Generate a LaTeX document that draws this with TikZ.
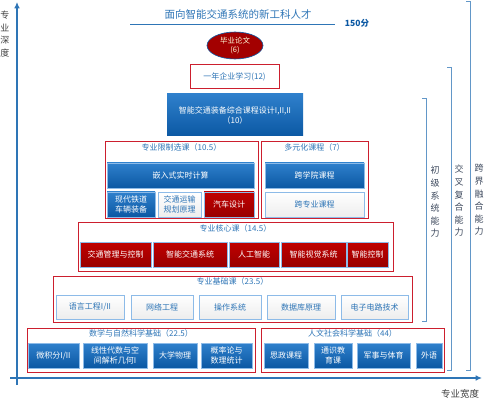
\documentclass[tikz,border=0pt]{standalone}
\usepackage{fontspec}
\setmainfont{Noto Sans CJK SC}
\usetikzlibrary{positioning,arrows.meta,shapes.geometric}
\definecolor{axisblue}{HTML}{2E75B6}
\definecolor{txtblue}{HTML}{2E75B6}
\definecolor{blktop}{HTML}{2F80CC}
\definecolor{blkbot}{HTML}{0B58A3}
\definecolor{redtop}{HTML}{C00000}
\definecolor{redbot}{HTML}{980000}
\definecolor{grpred}{HTML}{CC1F2E}
\definecolor{edgeblue}{HTML}{8DBBE8}
\definecolor{labgray}{HTML}{3E4A5E}

\begin{document}
\begin{tikzpicture}[x=1pt,y=-1pt,
  crs/.style={draw=edgeblue,line width=0.8pt,align=center,inner sep=1pt,
              font=\fontsize{8}{10}\selectfont,text=white},
  bluecrs/.style={crs,top color=blktop,bottom color=blkbot},
  redcrs/.style={crs,top color=redtop,bottom color=redbot},
  whitecrs/.style={crs,top color=white,bottom color=gray!14,text=txtblue},
  grp/.style={draw=grpred,line width=1pt},
  grptitle/.style={anchor=north,inner sep=2pt,text=txtblue,font=\fontsize{8}{9}\selectfont},
  brk/.style={draw=axisblue!75,line width=0.8pt},
  vtxt/.style={align=center,inner sep=0pt,text=labgray,font=\fontsize{9}{12.6}\selectfont},
  ax/.style={draw=axisblue,line width=1.3pt,-{Latex[length=2.2mm,width=2mm]}}
]
\useasboundingbox (0,0) rectangle (485,401);

% axes
\coordinate (ybot) at (17,385);
\coordinate (ytop) at (17,2);
\coordinate (xleft) at (10,378);
\coordinate (xright) at (482,378);
\draw[ax] (ybot) -- (ytop);
\draw[ax] (xleft) -- (xright);
\node[vtxt,text=black!75] (depth) at (5,34) {专\\业\\深\\度};
\node[text=black!75,font=\fontsize{9.5}{11}\selectfont,inner sep=0pt] (width) at (460,394) {专业宽度};

% goal
\node[text=txtblue,font=\fontsize{10.5}{12}\selectfont,inner sep=0pt] (goal) at (238,14) {面向智能交通系统的新工科人才};
\coordinate (ulA) at (130,24.5);
\coordinate (ulB) at (335,24.5);
\draw[axisblue,line width=1.2pt] (ulA) -- (ulB);
\node[text=blkbot,font=\bfseries\fontsize{8.5}{10}\selectfont,inner sep=0pt] (total) at (357,23) {150分};

% top levels
\node[ellipse,draw=blkbot,line width=0.6pt,fill=redtop!85!black,minimum width=56,minimum height=27,
      inner sep=0pt,align=center,text=yellow!15,font=\fontsize{7.5}{9}\selectfont] (thesis) at (235,45.5)
  {毕业论文\\(6)};
\node[grp,fill=white,minimum width=89,minimum height=24,inner sep=0pt,text=txtblue,
      font=\fontsize{8}{9}\selectfont] (firm) at (234.5,77) {一年企业学习(12)};
\node[crs,top color=blktop,bottom color=blkbot,draw=none,minimum width=136,minimum height=42] (design) at (235,115)
  {智能交通装备综合课程设计I,II,II\\（10）};

% electives
\node[grp,minimum width=153,minimum height=77] (restr) at (181.5,180.5) {};
\node[grptitle] (restrT) at (restr.north) {专业限制选课（10.5）};
\node[bluecrs,minimum width=147,minimum height=25] (embed) at (180.5,175.5) {嵌入式实时计算};
\node[bluecrs,minimum width=48,minimum height=25] (rail) at (131,204.5) {现代铁道\\车辆装备};
\node[whitecrs,minimum width=43,minimum height=25] (plan) at (179.5,204.5) {交通运输\\规划原理};
\node[redcrs,minimum width=50,minimum height=25] (car) at (229,204.5) {汽车设计};

\node[grp,minimum width=107,minimum height=77] (multi) at (314.5,180.5) {};
\node[grptitle] (multiT) at (multi.north) {多元化课程（7）};
\node[bluecrs,minimum width=99,minimum height=25] (xcol) at (314.5,175.5) {跨学院课程};
\node[whitecrs,minimum width=99,minimum height=25] (xmaj) at (314.5,204.5) {跨专业课程};

% core
\node[grp,minimum width=315,minimum height=48] (core) at (235.5,247) {};
\node[grptitle] (coreT) at (core.north) {专业核心课（14.5）};
\node[redcrs,minimum width=71,minimum height=25] (traf) at (115.5,254.5) {交通管理与控制};
\node[redcrs,minimum width=74,minimum height=25] (its) at (190,254.5) {智能交通系统};
\node[redcrs,minimum width=50,minimum height=25] (ai) at (254,254.5) {人工智能};
\node[redcrs,minimum width=65,minimum height=25] (vis) at (313.5,254.5) {智能视觉系统};
\node[redcrs,minimum width=41,minimum height=25] (ctrl) at (367.5,254.5) {智能控制};

% basics
\node[grp,minimum width=359,minimum height=46] (base) at (232.5,299) {};
\node[grptitle] (baseT) at (base.north) {专业基础课（23.5）};
\node[whitecrs,minimum width=68,minimum height=24] (lang) at (90,307) {语言工程I/II};
\node[whitecrs,minimum width=62,minimum height=24] (net) at (162,307) {网络工程};
\node[whitecrs,minimum width=62,minimum height=24] (os) at (230,307) {操作系统};
\node[whitecrs,minimum width=68,minimum height=24] (db) at (301,307) {数据库原理};
\node[whitecrs,minimum width=67,minimum height=24] (circ) at (374.5,307) {电子电路技术};

% general foundations
\node[grp,minimum width=228,minimum height=44] (math) at (141,350) {};
\node[grptitle] (mathT) at (math.north) {数学与自然科学基础（22.5）};
\node[bluecrs,minimum width=51,minimum height=25] (calc) at (53.5,355.5) {微积分I/II};
\node[bluecrs,minimum width=64,minimum height=25] (linalg) at (115,355.5) {线性代数与空\\间解析几何I};
\node[bluecrs,minimum width=44,minimum height=25] (phys) at (175,355.5) {大学物理};
\node[bluecrs,minimum width=51,minimum height=25] (prob) at (226.5,355.5) {概率论与\\数理统计};

\node[grp,minimum width=183,minimum height=44] (hum) at (352.5,350) {};
\node[grptitle] (humT) at (hum.north) {人文社会科学基础（44）};
\node[bluecrs,minimum width=44,minimum height=25] (ideo) at (286,355.5) {思政课程};
\node[bluecrs,minimum width=38,minimum height=25] (gened) at (333,355.5) {通识教\\育课};
\node[bluecrs,minimum width=53,minimum height=25] (pe) at (383.5,355.5) {军事与体育};
\node[bluecrs,minimum width=26,minimum height=25] (fl) at (429,355.5) {外语};

% ability brackets
\coordinate (b1t) at (426,98);
\coordinate (b1b) at (426,321);
\coordinate (b2t) at (451,67);
\coordinate (b2b) at (451,370);
\coordinate (b3t) at (470,1);
\coordinate (b3b) at (470,370);
\draw[brk] ([xshift=-4]b1t) -- (b1t) -- (b1b) -- ([xshift=-4]b1b);
\draw[brk] ([xshift=-4]b2t) -- (b2t) -- (b2b) -- ([xshift=-4]b2b);
\draw[brk] ([xshift=-4]b3t) -- (b3t) -- (b3b) -- ([xshift=-4]b3b);
\node[vtxt] (lvl1) at (435,202) {初\\级\\系\\统\\能\\力};
\node[vtxt] (lvl2) at (459,201) {交\\叉\\复\\合\\能\\力};
\node[vtxt] (lvl3) at (479,200) {跨\\界\\融\\合\\能\\力};
\end{tikzpicture}
\end{document}
